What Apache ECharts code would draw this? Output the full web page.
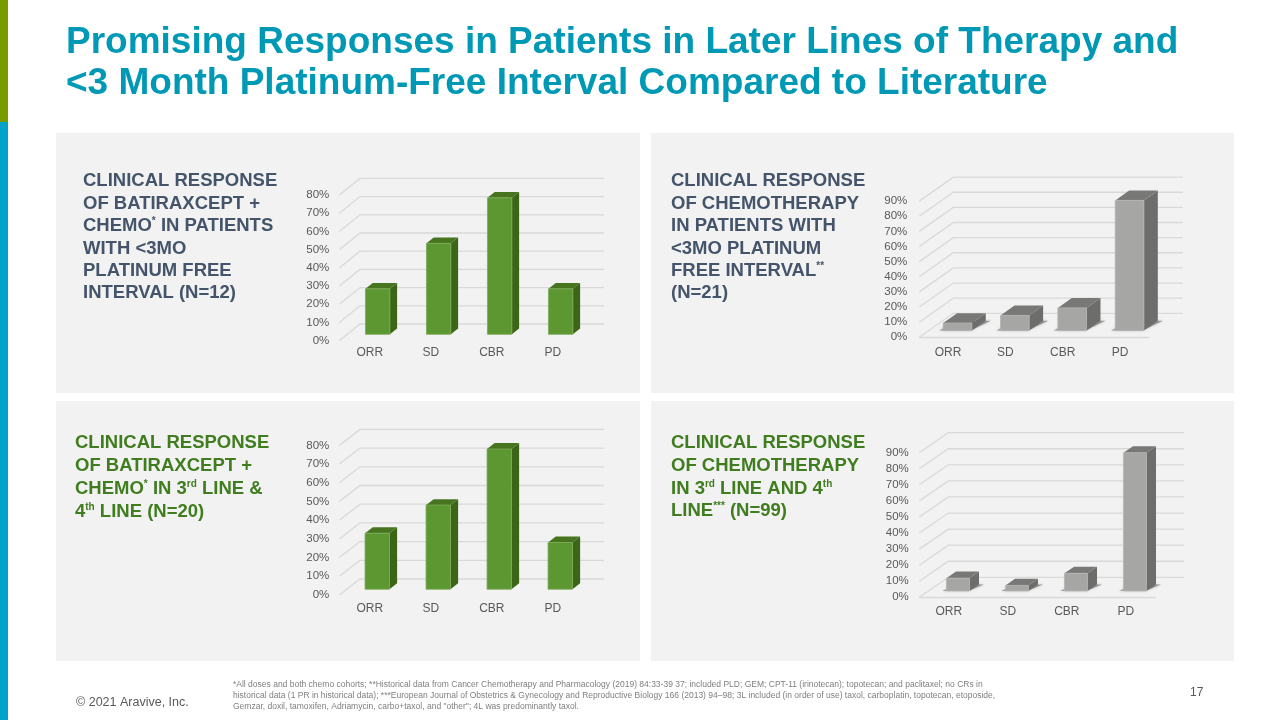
<!DOCTYPE html>
<html lang="en">
<head>
    <meta charset="UTF-8">
    <title>Promising Responses</title>
    <script src="https://cdn.jsdelivr.net/npm/echarts@6/dist/echarts.min.js"></script>
    <style>
        *{
            margin: 0;
            padding: 0;
        }
        body{
            background-color: #fff;
            overflow: hidden;
        }
    </style>
</head>
<body>
<div id="main" style="width:1280px;height:720px;"></div>

<script>
    // data
    var categories = ['ORR', 'SD', 'CBR', 'PD'];
    var batiraxceptPlatinum = [25, 50, 75, 25];
    var chemoPlatinum = [5, 10, 15, 86];
    var batiraxceptLines = [30, 45, 75, 25];
    var chemoLines = [8, 3.5, 11, 86];
    var ticksTo80 = [0, 10, 20, 30, 40, 50, 60, 70, 80];
    var ticksTo90 = [0, 10, 20, 30, 40, 50, 60, 70, 80, 90];

    var titleLines = [
        'Promising Responses in Patients in Later Lines of Therapy and',
        '<3 Month Platinum-Free Interval Compared to Literature'
    ];
    var footnoteLines = [
        '*All doses and both chemo cohorts; **Historical data from Cancer Chemotherapy and Pharmacology (2019) 84:33-39 37; included PLD; GEM; CPT-11 (irinotecan); topotecan; and paclitaxel; no CRs in',
        'historical data (1 PR in historical data); ***European Journal of Obstetrics & Gynecology and Reproductive Biology 166 (2013) 94\u201398; 3L included (in order of use) taxol, carboplatin, topotecan, etoposide,',
        'Gemzar, doxil, tamoxifen, Adriamycin, carbo+taxol, and "other"; 4L was predominantly taxol.'
    ];

    var green = {front: '#5d9732', edge: '#7bab58', side: '#3d6518', top: '#47741f'};
    var gray = {front: '#a6a7a5', edge: '#b4b5b3', side: '#6d6e6c', top: '#787977', shadow: true};
    var textFont = 'Liberation Sans';

    // one entry per chart: front plane of the box and the depth vector of the wall
    var panels = [
        {values: batiraxceptPlatinum, ticks: ticksTo80, max: 80, colors: green,
            left: 339.3, right: 583.3, top: 195.1, bottom: 340.7, dx: 20.7, dy: -16.7,
            barWidth: 0.4, depthStart: 0.38, depthLen: 0.35, yMargin: 10, xMargin: 6, floor: false,
            text: 83, textTop: [181, 204, 226, 249, 271, 293], textColor: '#44546a',
            lines: ['CLINICAL RESPONSE', 'OF BATIRAXCEPT +', 'CHEMO{sup|*} IN PATIENTS', 'WITH <3MO', 'PLATINUM FREE', 'INTERVAL (N=12)']},
        {values: chemoPlatinum, ticks: ticksTo90, max: 90, colors: gray,
            left: 919.3, right: 1148.7, top: 201.1, bottom: 337.3, dx: 34, dy: -24,
            barWidth: 0.5, depthStart: 0.28, depthLen: 0.41, yMargin: 12, xMargin: 9, floor: true,
            text: 671, textTop: [181, 204, 226, 249, 271, 293], textColor: '#44546a',
            lines: ['CLINICAL RESPONSE', 'OF CHEMOTHERAPY', 'IN PATIENTS WITH', '<3MO PLATINUM', 'FREE INTERVAL{sup|**}', '(N=21)']},
        {values: batiraxceptLines, ticks: ticksTo80, max: 80, colors: green,
            left: 339.3, right: 583.3, top: 445.4, bottom: 595, dx: 20.7, dy: -16,
            barWidth: 0.4, depthStart: 0.36, depthLen: 0.37, yMargin: 10, xMargin: 7.5, floor: false,
            text: 75, textTop: [443, 466, 489, 512], textColor: '#3f7d1e',
            lines: ['CLINICAL RESPONSE', 'OF BATIRAXCEPT +', 'CHEMO{sup|*} IN 3{sup|rd} LINE &', '4{sup|th} LINE (N=20)']},
        {values: chemoLines, ticks: ticksTo90, max: 90, colors: gray,
            left: 919.3, right: 1155.3, top: 452.7, bottom: 597.3, dx: 29, dy: -20,
            barWidth: 0.39, depthStart: 0.315, depthLen: 0.33, yMargin: 10.5, xMargin: 8.7, floor: true,
            text: 671, textTop: [443, 466, 489, 511], textColor: '#3f7d1e',
            lines: ['CLINICAL RESPONSE', 'OF CHEMOTHERAPY', 'IN 3{sup|rd} LINE AND 4{sup|th}', 'LINE{sup|***} (N=99)']}
    ];

    // back wall lines, drawn from the axis scale and pushed back by the depth vector
    function wallRenderer(panel) {
        return function (params, api) {
            var grid = params.coordSys;
            var p = api.coord([0, api.value(0)]);
            return {
                type: 'polyline',
                shape: {points: [
                    [grid.x, p[1]],
                    [grid.x + panel.dx, p[1] + panel.dy],
                    [grid.x + grid.width + panel.dx, p[1] + panel.dy]
                ]},
                style: {fill: null, stroke: '#d9d9d9', lineWidth: 1.3}
            };
        };
    }

    function barRenderer(panel) {
        var c = panel.colors;
        return function (params, api) {
            var base = api.coord([api.value(0), 0]);
            var top = api.coord([api.value(0), api.value(1)]);
            var band = api.size([1, 0])[0];
            var w = band * panel.barWidth;
            var sx = panel.dx * panel.depthStart;
            var sy = panel.dy * panel.depthStart;
            var ox = panel.dx * panel.depthLen;
            var oy = panel.dy * panel.depthLen;
            var x0 = base[0] - w / 2 + sx;
            var x1 = base[0] + w / 2 + sx;
            var yb = base[1] + sy;
            var yt = top[1] + sy;
            var children = [];
            if (c.shadow) {
                children.push({
                    type: 'polygon',
                    shape: {points: [[x0 - 4, yb], [x1 - 1, yb], [x1 + ox + 5, yb + oy], [x0 + ox, yb + oy]]},
                    style: {fill: 'rgba(90,90,90,0.55)', shadowBlur: 3, shadowColor: 'rgba(90,90,90,0.5)'}
                });
            }
            children.push({
                type: 'polygon',
                shape: {points: [[x1, yb], [x1 + ox, yb + oy], [x1 + ox, yt + oy], [x1, yt]]},
                style: {fill: c.side}
            });
            children.push({
                type: 'polygon',
                shape: {points: [[x0, yt], [x1, yt], [x1 + ox, yt + oy], [x0 + ox, yt + oy]]},
                style: {fill: c.top}
            });
            children.push({
                type: 'rect',
                shape: {x: x0, y: yt, width: w, height: yb - yt},
                style: {fill: c.front, stroke: c.edge, lineWidth: 0.8}
            });
            return {type: 'group', children: children};
        };
    }

    var grids = [], xAxes = [], yAxes = [], series = [];
    panels.forEach(function (panel, i) {
        grids.push({
            left: panel.left,
            top: panel.top,
            width: panel.right - panel.left,
            height: panel.bottom - panel.top
        });
        xAxes.push({
            type: 'category',
            gridIndex: i,
            data: categories,
            axisTick: {show: false},
            axisLine: {show: panel.floor, lineStyle: {color: '#d9d9d9', width: 1.3}},
            axisLabel: {color: '#595959', fontSize: 12, fontFamily: textFont, margin: panel.xMargin}
        });
        yAxes.push({
            type: 'value',
            gridIndex: i,
            min: 0,
            max: panel.max,
            interval: 10,
            splitLine: {show: false},
            axisLine: {show: false},
            axisTick: {show: false},
            axisLabel: {color: '#595959', fontSize: 11.5, fontFamily: textFont, margin: panel.yMargin, formatter: '{value}%'}
        });
        series.push({
            type: 'custom',
            xAxisIndex: i,
            yAxisIndex: i,
            z: 1,
            silent: true,
            renderItem: wallRenderer(panel),
            encode: {y: 0},
            data: panel.ticks.map(function (t) { return [t]; })
        });
        series.push({
            type: 'custom',
            xAxisIndex: i,
            yAxisIndex: i,
            z: 2,
            silent: true,
            renderItem: barRenderer(panel),
            encode: {x: 0, y: 1},
            data: panel.values.map(function (v, k) { return [k, v]; })
        });
    });

    // slide furniture
    var graphics = [
        {type: 'rect', shape: {x: 0, y: 0, width: 8, height: 122}, style: {fill: '#7a9a01'}},
        {type: 'rect', shape: {x: 0, y: 122, width: 8, height: 598}, style: {fill: '#00a3c7'}},
        {type: 'rect', shape: {x: 56, y: 133, width: 584, height: 260}, style: {fill: '#f2f2f2'}},
        {type: 'rect', shape: {x: 651, y: 133, width: 583, height: 260}, style: {fill: '#f2f2f2'}},
        {type: 'rect', shape: {x: 56, y: 401, width: 584, height: 260}, style: {fill: '#f2f2f2'}},
        {type: 'rect', shape: {x: 651, y: 401, width: 583, height: 260}, style: {fill: '#f2f2f2'}}
    ];

    function addText(text, x, y, font, color, rich) {
        graphics.push({
            type: 'text',
            x: x,
            y: y,
            style: {text: text, font: font, fill: color, textVerticalAlign: 'middle', verticalAlign: 'middle', rich: rich}
        });
    }

    titleLines.forEach(function (line, i) {
        addText(line, 66, 43 + i * 41, 'bold 37px "' + textFont + '"', '#0099b5');
    });
    panels.forEach(function (panel) {
        panel.lines.forEach(function (line, i) {
            var font = 'bold 18.5px "' + textFont + '"';
            addText(line, panel.text, panel.textTop[i], font, panel.textColor, {
                sup: {font: 'bold 10px "' + textFont + '"', fill: panel.textColor, verticalAlign: 'top', padding: [0, 0, 8, 0]}
            });
        });
    });
    footnoteLines.forEach(function (line, i) {
        addText(line, 233, 684.7 + i * 11.2, '8.5px "' + textFont + '"', '#7f7f7f');
    });
    addText('\u00a9 2021 Aravive, Inc.', 76, 703, '12.5px "' + textFont + '"', '#595959');
    addText('17', 1190, 693, '12px "' + textFont + '"', '#595959');

    var myChart = echarts.init(document.getElementById('main'), null, {renderer: 'canvas'});
    myChart.setOption({
        animation: false,
        backgroundColor: '#fff',
        graphic: {elements: graphics},
        grid: grids,
        xAxis: xAxes,
        yAxis: yAxes,
        series: series
    });
</script>
</body>
</html>
